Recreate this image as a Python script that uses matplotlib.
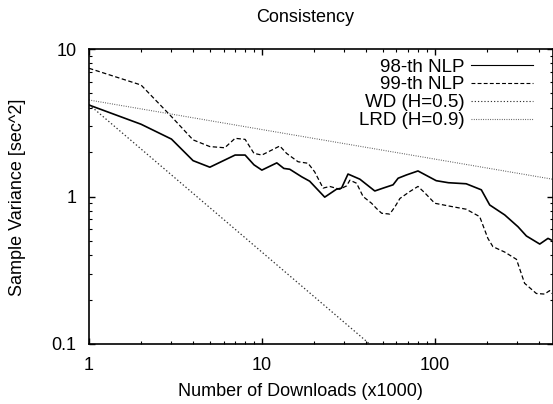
import numpy as np
import matplotlib
matplotlib.use("Agg")
import matplotlib.pyplot as plt
from matplotlib.ticker import FixedLocator, FixedFormatter, LogLocator, NullFormatter

plt.rcParams['font.family'] = ['Liberation Sans', 'DejaVu Sans']

# 98-th NLP sample variance
nlp98_x = [1, 2, 3, 4, 5, 7, 8, 9, 10, 12.2, 13.4, 14.5, 17, 18.9, 23.1,
           27, 28.9, 31.5, 36.9, 45, 50.3, 57.4, 61.4, 68.6, 80,
           102, 120, 152, 186, 208, 254, 303, 339, 405, 452, 472]
nlp98_y = [4.17, 3.09, 2.45, 1.75, 1.58, 1.91, 1.91, 1.64, 1.51, 1.69, 1.55, 1.53, 1.36, 1.27, 0.99,
           1.12, 1.14, 1.42, 1.31, 1.09, 1.14, 1.2, 1.33, 1.40, 1.49,
           1.28, 1.24, 1.22, 1.11, 0.876, 0.75, 0.624, 0.54, 0.476, 0.52, 0.507]

# 99-th NLP sample variance
nlp99_x = [1, 2, 3, 4, 5, 6.1, 7, 8, 9, 10, 12.7, 13.9, 16.2, 18.5, 20.2,
           22.6, 24.7, 28.2, 30.9, 32.3, 35.3, 38.5, 43.1, 46, 49.3,
           54.9, 58.8, 62.9, 71.7, 80, 87.5, 100, 122, 152, 182,
           203, 217, 254, 297, 331, 387, 432, 462, 475]
nlp99_y = [7.4, 5.7, 3.48, 2.42, 2.18, 2.14, 2.48, 2.44, 1.96, 1.91, 2.2, 1.96, 1.72, 1.68, 1.47,
           1.14, 1.17, 1.12, 1.18, 1.29, 1.23, 1.0, 0.90, 0.83, 0.77,
           0.76, 0.85, 0.97, 1.08, 1.17, 1.06, 0.90, 0.86, 0.82, 0.73,
           0.52, 0.457, 0.42, 0.375, 0.258, 0.22, 0.218, 0.23, 0.22]

# reference lines (straight in log-log, end points only)
wd_x = [1, 42]
wd_y = [4.2, 0.1]
lrd_x = [1, 480]
lrd_y = [4.51, 1.31]

labels = ['98-th NLP', '99-th NLP', 'WD (H=0.5)', 'LRD (H=0.9)']
xticks = [1, 10, 100]
yticks = [0.1, 1, 10]

fig = plt.figure(figsize=(5.53, 4.04), dpi=100)
ax = fig.add_axes([89 / 553, 60 / 404, 463.5 / 553, 295 / 404])

ax.plot(nlp98_x, nlp98_y, color='black', lw=1.2, label=labels[0])
ax.plot(nlp99_x, nlp99_y, color='black', lw=0.9, dashes=(3.5, 2), label=labels[1])
ax.plot(wd_x, wd_y, color='#333333', lw=0.9, dashes=(1.1, 1.8), label=labels[2])
ax.plot(lrd_x, lrd_y, color='#555555', lw=0.8, dashes=(0.8, 1.3), label=labels[3])

ax.set_xscale('log')
ax.set_yscale('log')
ax.set_xlim(1, 480)
ax.set_ylim(0.1, 10)

ax.xaxis.set_major_locator(FixedLocator(xticks))
ax.xaxis.set_major_formatter(FixedFormatter([str(t) for t in xticks]))
ax.yaxis.set_major_locator(FixedLocator(yticks))
ax.yaxis.set_major_formatter(FixedFormatter(['0.1', '1', '10']))
ax.xaxis.set_minor_locator(LogLocator(base=10, subs=np.arange(2, 10)))
ax.yaxis.set_minor_locator(LogLocator(base=10, subs=np.arange(2, 10)))
ax.xaxis.set_minor_formatter(NullFormatter())
ax.yaxis.set_minor_formatter(NullFormatter())

ax.tick_params(which='both', direction='in', top=True, right=True, labelsize=13, colors='black')
ax.tick_params(which='major', length=4.5, width=1, pad=9)
ax.tick_params(which='minor', length=2.3, width=0.8)
for s in ax.spines.values():
    s.set_linewidth(1.2)

leg = ax.legend(loc='upper right', bbox_to_anchor=(0.957, 0.968), frameon=False,
                markerfirst=False, fontsize=13.5, handlelength=3.3, handletextpad=0.35,
                labelspacing=0.04, borderpad=0, borderaxespad=0)
for line in leg.get_lines():
    line.set_linewidth(0.8)

fig.text(305 / 553, 1 - 17 / 404, 'Consistency', ha='center', va='center', fontsize=13)
fig.text(300 / 553, 1 - 391 / 404, 'Number of Downloads (x1000)', ha='center', va='center', fontsize=13)
fig.text(18 / 553, 1 - 197 / 404, 'Sample Variance [sec^2]', ha='center', va='center',
         rotation=90, fontsize=13)

fig.savefig('out.png', dpi=100)
